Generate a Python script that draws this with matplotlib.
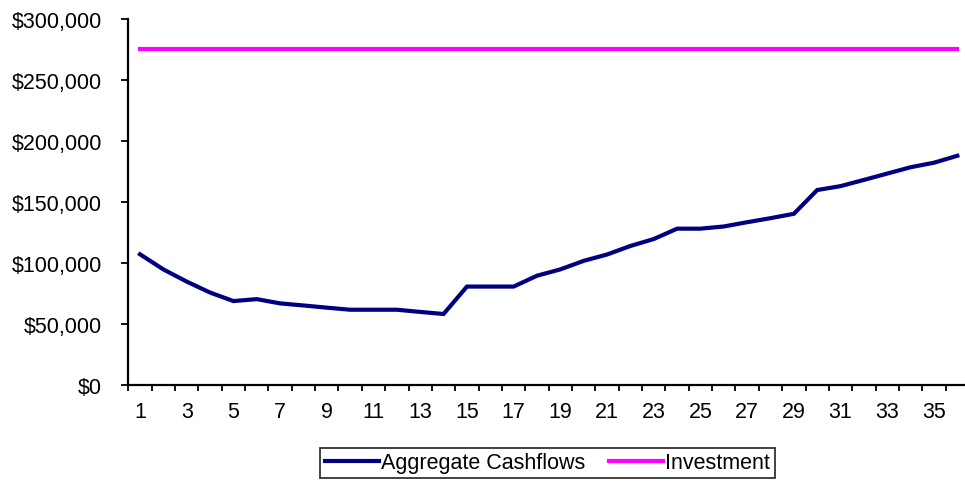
import matplotlib
matplotlib.use("Agg")
import matplotlib.pyplot as plt
from matplotlib.ticker import FuncFormatter, MultipleLocator, FixedLocator

plt.rcParams['font.family'] = ['Liberation Sans', 'DejaVu Sans']

periods = list(range(1, 37))
aggregate_cashflows = [107000, 94600, 84600, 75600, 68600, 70200, 66700, 65000, 63200, 61500,
                       61500, 61500, 59700, 58000, 80500, 80500, 80500, 89400, 94600, 101600,
                       106800, 113800, 119500, 128000, 128000, 129800, 133300, 136600, 140200, 159700,
                       162900, 168000, 173200, 178400, 182100, 187800]
investment = [275000] * len(periods)

fig = plt.figure(figsize=(9.65, 4.85), dpi=100)
ax = fig.add_axes([128.3 / 965, 1 - 385.7 / 485, (969 - 128.3) / 965, (385.7 - 20) / 485])

ax.plot(periods, aggregate_cashflows, color='#000080', lw=3, label='Aggregate Cashflows',
        solid_joinstyle='miter')
ax.plot(periods, investment, color='#FF00FF', lw=3, label='Investment')

ax.set_xlim(0.5, 36.5)
ax.set_ylim(0, 300000)

ax.yaxis.set_major_locator(MultipleLocator(50000))
ax.yaxis.set_major_formatter(FuncFormatter(lambda v, p: '${:,.0f}'.format(v)))

# ticks between categories, labels on odd categories
ax.xaxis.set_major_locator(FixedLocator([i + 0.5 for i in range(0, 37)]))
ax.xaxis.set_major_formatter(FuncFormatter(lambda v, p: ''))
ax.xaxis.set_minor_locator(FixedLocator(periods[::2]))
ax.xaxis.set_minor_formatter(FuncFormatter(lambda v, p: '%d' % v))
ax.tick_params(axis='x', which='minor', length=0, labelsize=15.5, pad=12)
ax.tick_params(axis='x', which='major', length=4.5, width=1.3, direction='out')
ax.tick_params(axis='y', length=5, width=1.3, direction='out', labelsize=15.5, pad=14)

for s in ['top', 'right']:
    ax.spines[s].set_visible(False)
for s in ['left', 'bottom']:
    ax.spines[s].set_linewidth(1.6)

leg = fig.legend(loc='center', bbox_to_anchor=(547.5 / 965, 1 - 464 / 485), ncol=2,
                 fontsize=15.5, frameon=True, fancybox=False, edgecolor='black',
                 handlelength=2.5, handletextpad=0.12, columnspacing=1.1,
                 borderpad=0.2, borderaxespad=0)
leg.get_frame().set_linewidth(1.3)

fig.savefig('out.png', dpi=100)
